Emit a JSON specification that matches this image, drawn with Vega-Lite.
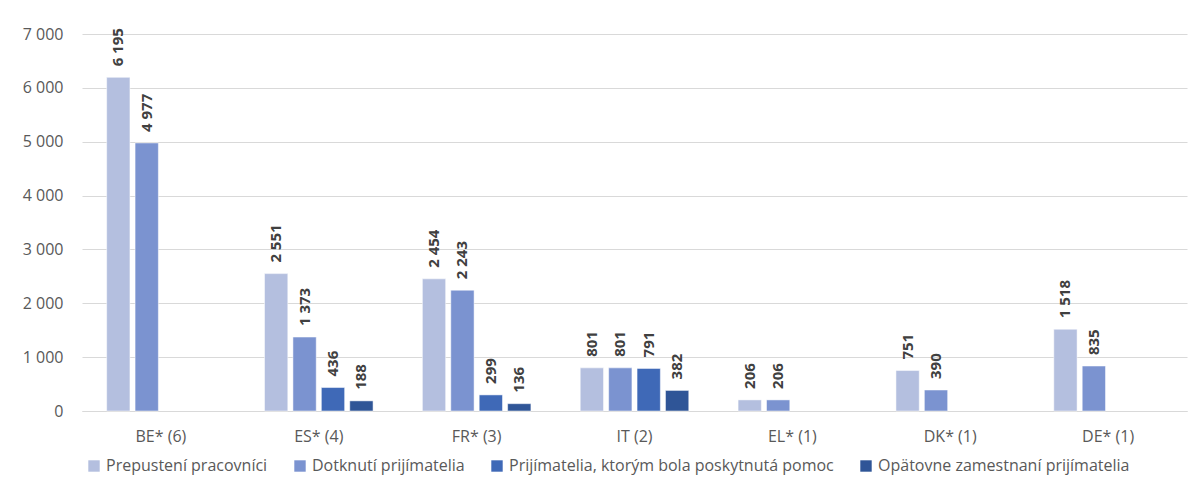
{
  "$schema": "https://vega.github.io/schema/vega-lite/v6.json",
  "autosize": {"type": "none"},
  "width": 1105,
  "height": 377,
  "padding": {"left": 82, "top": 34, "right": 10, "bottom": 79},
  "background": "white",
  "config": {
    "locale": {"number": {"decimal": ",", "thousands": " ", "grouping": [3], "currency": ["", " €"]}},
    "view": {"stroke": null},
    "font": "Open Sans"
  },
  "data": {
    "values": [
      {"country": "BE* (6)", "series": "Prepustení pracovníci", "value": 6195},
      {"country": "BE* (6)", "series": "Dotknutí prijímatelia", "value": 4977},
      {"country": "ES* (4)", "series": "Prepustení pracovníci", "value": 2551},
      {"country": "ES* (4)", "series": "Dotknutí prijímatelia", "value": 1373},
      {"country": "ES* (4)", "series": "Prijímatelia, ktorým bola poskytnutá pomoc", "value": 436},
      {"country": "ES* (4)", "series": "Opätovne zamestnaní prijímatelia", "value": 188},
      {"country": "FR* (3)", "series": "Prepustení pracovníci", "value": 2454},
      {"country": "FR* (3)", "series": "Dotknutí prijímatelia", "value": 2243},
      {"country": "FR* (3)", "series": "Prijímatelia, ktorým bola poskytnutá pomoc", "value": 299},
      {"country": "FR* (3)", "series": "Opätovne zamestnaní prijímatelia", "value": 136},
      {"country": "IT (2)", "series": "Prepustení pracovníci", "value": 801},
      {"country": "IT (2)", "series": "Dotknutí prijímatelia", "value": 801},
      {"country": "IT (2)", "series": "Prijímatelia, ktorým bola poskytnutá pomoc", "value": 791},
      {"country": "IT (2)", "series": "Opätovne zamestnaní prijímatelia", "value": 382},
      {"country": "EL* (1)", "series": "Prepustení pracovníci", "value": 206},
      {"country": "EL* (1)", "series": "Dotknutí prijímatelia", "value": 206},
      {"country": "DK* (1)", "series": "Prepustení pracovníci", "value": 751},
      {"country": "DK* (1)", "series": "Dotknutí prijímatelia", "value": 390},
      {"country": "DE* (1)", "series": "Prepustení pracovníci", "value": 1518},
      {"country": "DE* (1)", "series": "Dotknutí prijímatelia", "value": 835}
    ]
  },
  "encoding": {
    "x": {
      "field": "country", "type": "nominal", "sort": null,
      "scale": {"paddingInner": 0.28, "paddingOuter": 0.14},
      "axis": {"title": null, "labelAngle": 0, "ticks": false, "domainColor": "#d9d9d9", "labelColor": "#595959", "labelFontSize": 16, "labelPadding": 17, "labelFont": "Open Sans"}
    },
    "xOffset": {
      "field": "series", "type": "nominal",
      "scale": {"domain": ["Prepustení pracovníci", "Dotknutí prijímatelia", "Prijímatelia, ktorým bola poskytnutá pomoc", "Opätovne zamestnaní prijímatelia"], "paddingInner": 0.18, "paddingOuter": 0.09}
    },
    "y": {
      "field": "value", "type": "quantitative",
      "scale": {"domain": [0, 7000]},
      "axis": {"title": null, "values": [0, 1000, 2000, 3000, 4000, 5000, 6000, 7000], "format": ",d", "domain": false, "ticks": false, "gridColor": "#d9d9d9", "labelColor": "#595959", "labelFontSize": 16, "labelPadding": 19, "labelFont": "Open Sans"}
    }
  },
  "layer": [
    {
      "mark": {"type": "bar", "stroke": "white", "strokeWidth": 0.5},
      "encoding": {
        "color": {
          "field": "series", "type": "nominal",
          "scale": {"domain": ["Prepustení pracovníci", "Dotknutí prijímatelia", "Prijímatelia, ktorým bola poskytnutá pomoc", "Opätovne zamestnaní prijímatelia"], "range": ["#b4bfdf", "#7b93d0", "#3f69b7", "#2f5597"]},
          "legend": {"title": null, "orient": "none", "legendX": 4, "legendY": 424, "direction": "horizontal", "symbolType": "square", "symbolSize": 130, "symbolStrokeWidth": 0, "labelFontSize": 16, "labelColor": "#595959", "labelFont": "Open Sans", "columnPadding": 24, "labelOffset": 4, "labelLimit": 500}
        }
      }
    },
    {
      "mark": {"type": "text", "angle": -90, "align": "left", "baseline": "middle", "dx": 11, "fontWeight": "bold", "fontSize": 15, "color": "#404040", "font": "Open Sans"},
      "encoding": {
        "text": {"field": "value", "type": "quantitative", "format": ",d"}
      }
    }
  ]
}
